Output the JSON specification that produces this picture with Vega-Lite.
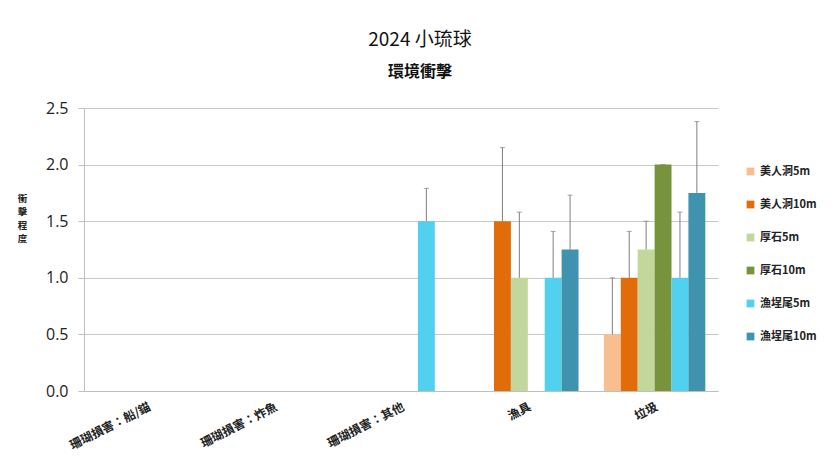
{
  "$schema": "https://vega.github.io/schema/vega-lite/v6.json",
  "autosize": "none",
  "width": 634,
  "height": 283,
  "padding": {"left": 84, "top": 108, "right": 122, "bottom": 82},
  "background": "white",
  "config": {
    "font": "Noto Sans CJK TC",
    "view": {"stroke": null}
  },
  "title": {
    "text": "2024 小琉球",
    "subtitle": "環境衝擊",
    "anchor": "middle",
    "dx": 19,
    "offset": 20,
    "font": "Noto Sans CJK TC",
    "fontSize": 19,
    "fontWeight": "normal",
    "color": "#111111",
    "subtitleFont": "Noto Sans CJK TC",
    "subtitleFontSize": 16,
    "subtitleFontWeight": "bold",
    "subtitleColor": "#111111",
    "subtitlePadding": 14
  },
  "data": {
    "values": [
      {"category": "珊瑚損害：其他", "site": "漁埕尾5m", "value": 1.5, "upper": 1.79},
      {"category": "漁具", "site": "美人洞10m", "value": 1.5, "upper": 2.15},
      {"category": "漁具", "site": "厚石5m", "value": 1.0, "upper": 1.58},
      {"category": "漁具", "site": "漁埕尾5m", "value": 1.0, "upper": 1.41},
      {"category": "漁具", "site": "漁埕尾10m", "value": 1.25, "upper": 1.73},
      {"category": "垃圾", "site": "美人洞5m", "value": 0.5, "upper": 1.0},
      {"category": "垃圾", "site": "美人洞10m", "value": 1.0, "upper": 1.41},
      {"category": "垃圾", "site": "厚石5m", "value": 1.25, "upper": 1.5},
      {"category": "垃圾", "site": "厚石10m", "value": 2.0, "upper": 2.0},
      {"category": "垃圾", "site": "漁埕尾5m", "value": 1.0, "upper": 1.58},
      {"category": "垃圾", "site": "漁埕尾10m", "value": 1.75, "upper": 2.38}
    ]
  },
  "encoding": {
    "x": {
      "field": "category",
      "type": "nominal",
      "scale": {
        "domain": ["珊瑚損害：船/錨", "珊瑚損害：炸魚", "珊瑚損害：其他", "漁具", "垃圾"],
        "paddingInner": 0.2,
        "paddingOuter": 0.1
      },
      "axis": {
        "title": null,
        "labelAngle": -27,
        "labelFontSize": 12,
        "labelFontWeight": "bold",
        "labelColor": "#222222",
        "labelPadding": 10,
        "ticks": false,
        "domainColor": "#bfbfbf",
        "grid": false
      }
    },
    "xOffset": {
      "field": "site",
      "type": "nominal",
      "scale": {
        "domain": ["美人洞5m", "美人洞10m", "厚石5m", "厚石10m", "漁埕尾5m", "漁埕尾10m"],
        "paddingInner": 0,
        "paddingOuter": 0
      }
    }
  },
  "layer": [
    {
      "mark": {"type": "bar"},
      "encoding": {
        "y": {
          "field": "value",
          "type": "quantitative",
          "scale": {"domain": [0, 2.5], "nice": false},
          "axis": {
            "title": ["衝", "擊", "程", "度"],
            "titleAngle": 0,
            "titleAlign": "center",
            "titleBaseline": "top",
            "titleLineHeight": 13.5,
            "titleFontSize": 9.5,
            "titleFontWeight": "bold",
            "titleColor": "#222222",
            "titleX": -62,
            "titleY": 85,
            "values": [0, 0.5, 1, 1.5, 2, 2.5],
            "format": ".1f",
            "labelFont": "Open Sans",
            "labelFontSize": 16,
            "labelColor": "#222222",
            "labelPadding": 10,
            "tickSize": 6,
            "tickColor": "#bfbfbf",
            "domainColor": "#bfbfbf",
            "gridColor": "#c8c8c8"
          }
        },
        "color": {
          "field": "site",
          "type": "nominal",
          "scale": {
            "domain": ["美人洞5m", "美人洞10m", "厚石5m", "厚石10m", "漁埕尾5m", "漁埕尾10m"],
            "range": ["#F8BE8F", "#E36C0A", "#C3D69B", "#77933C", "#52D0F0", "#3F93AE"]
          },
          "legend": {
            "title": null,
            "orient": "none",
            "legendX": 661,
            "legendY": 58,
            "symbolType": "square",
            "symbolSize": 60,
            "symbolStrokeWidth": 0,
            "labelFontSize": 11,
            "labelFontWeight": "bold",
            "labelColor": "#222222",
            "rowPadding": 21
          }
        }
      }
    },
    {
      "mark": {"type": "rule", "color": "#7f7f7f", "strokeWidth": 1},
      "encoding": {
        "y": {"field": "value", "type": "quantitative"},
        "y2": {"field": "upper"}
      }
    },
    {
      "mark": {"type": "tick", "color": "#7f7f7f", "thickness": 1, "size": 5},
      "encoding": {
        "y": {"field": "upper", "type": "quantitative"}
      }
    }
  ]
}
